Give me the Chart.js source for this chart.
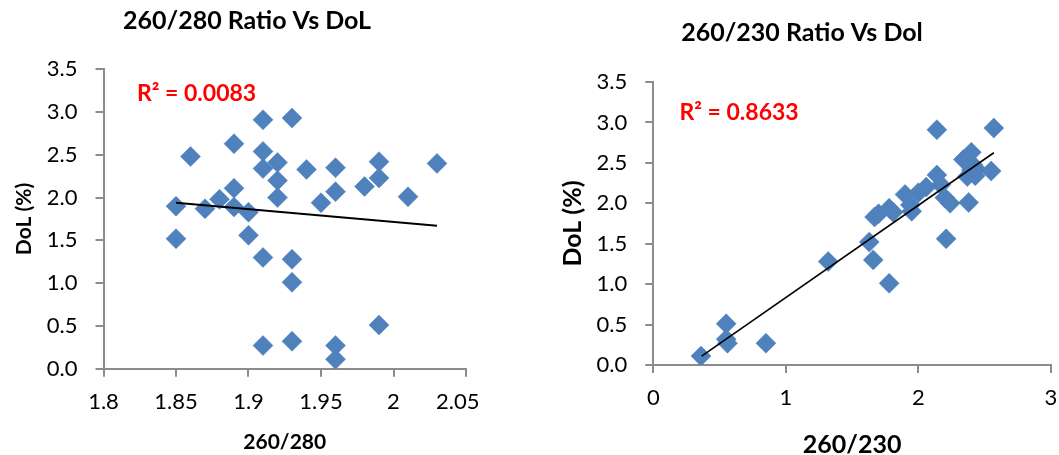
<!DOCTYPE html>
<html>
<head>
<meta charset="utf-8">
<script src="https://cdn.jsdelivr.net/npm/chart.js@4.4.1/dist/chart.umd.min.js"></script>
<style>
  html, body { margin: 0; padding: 0; background: #fff; overflow: hidden; }
  #wrap { position: relative; width: 1059px; height: 455px; overflow: hidden; }
  .box { position: absolute; top: 0; }
  #box280 { left: 0; width: 500px; height: 480px; }
  #box230 { left: 530px; width: 529px; height: 480px; }
</style>
</head>
<body>
<div id="wrap">
  <div class="box" id="box280"><canvas id="c280"></canvas></div>
  <div class="box" id="box230"><canvas id="c230"></canvas></div>
</div>
<script>
// ---- Sample data: degree of labelling (DoL, %) against purity ratios ----
const ratio280 = [1.85, 1.85, 1.86, 1.87, 1.88, 1.89, 1.89, 1.89, 1.90, 1.90,
                  1.91, 1.91, 1.91, 1.91, 1.91, 1.92, 1.92, 1.92, 1.93, 1.93,
                  1.93, 1.93, 1.94, 1.95, 1.96, 1.96, 1.96, 1.96, 1.98, 1.99,
                  1.99, 1.99, 2.01, 2.03];
const dol280   = [1.90, 1.52, 2.48, 1.87, 1.98, 2.63, 2.11, 1.89, 1.83, 1.56,
                  2.91, 2.54, 2.34, 1.30, 0.27, 2.41, 2.20, 2.00, 2.93, 1.28,
                  1.01, 0.32, 2.33, 1.94, 2.35, 2.07, 0.27, 0.11, 2.13, 2.42,
                  2.23, 0.51, 2.01, 2.40];

const ratio230 = [2.34, 2.40, 2.41, 2.44, 2.40, 2.37, 2.14, 2.43, 2.55, 2.17,
                  2.06, 2.00, 1.90, 2.20, 2.38, 2.24, 1.94, 1.78, 1.95, 1.81,
                  1.70, 1.67, 2.21, 1.63, 1.66, 1.32, 1.78, 0.55, 0.55, 0.56,
                  0.85, 0.36, 2.14, 2.57];
const dol230   = [2.54, 2.63, 2.48, 2.42, 2.41, 2.33, 2.35, 2.34, 2.40, 2.23,
                  2.20, 2.13, 2.11, 2.07, 2.01, 2.00, 1.98, 1.94, 1.90, 1.89,
                  1.87, 1.83, 1.56, 1.52, 1.30, 1.28, 1.01, 0.51, 0.32, 0.27,
                  0.27, 0.11, 2.91, 2.93];

// Linear trend line end points
const fit280X = [1.85, 2.03];
const fit280Y = [1.94, 1.67];
const fit230X = [0.365, 2.57];
const fit230Y = [0.11, 2.625];

// Axis ticks
const dolTicks      = [0, 0.5, 1, 1.5, 2, 2.5, 3, 3.5];
const dolTickLabels = ['0.0', '0.5', '1.0', '1.5', '2.0', '2.5', '3.0', '3.5'];
const x280Ticks      = [1.8, 1.85, 1.9, 1.95, 2.0, 2.05];
const x280TickLabels = ['1.8', '1.85', '1.9', '1.95', '2', '2.05'];
const x230Ticks      = [0, 1, 2, 3];
const x230TickLabels = ['0', '1', '2', '3'];

const r2Label280 = 'R\u00B2 = 0.0083';
const r2Label230 = 'R\u00B2 = 0.8633';

// ---- Styling ----
const FONT = 'Lato, "Open Sans", sans-serif';
const AXIS_GREY = '#8c8c8c';
const MARKER = '#4F81BD';
const TICK_SIZE = 22;

Chart.defaults.font.family = FONT;
Chart.defaults.font.size = TICK_SIZE;
Chart.defaults.color = '#000';

// Draws free-standing captions (chart title, R² annotation) on the canvas
const captionPlugin = {
  id: 'captions',
  afterDraw(chart, args, opts) {
    const ctx = chart.ctx;
    ctx.save();
    (opts.items || []).forEach(it => {
      ctx.font = it.font;
      ctx.fillStyle = it.color;
      ctx.textAlign = it.align;
      ctx.textBaseline = 'middle';
      ctx.fillText(it.text, it.x, it.y);
    });
    ctx.restore();
  }
};

// Fixes an axis box to an exact size and drops the edge padding for end labels
function fixBox(size, horizontal) {
  return s => {
    if (horizontal) { s.height = size; } else { s.width = size; }
    s.paddingLeft = 0; s.paddingRight = 0; s.paddingTop = 0; s.paddingBottom = 0;
  };
}

function buildChart(canvasId, cfg) {
  return new Chart(document.getElementById(canvasId), {
    type: 'scatter',
    data: {
      datasets: [
        {
          type: 'line',
          data: cfg.fitX.map((x, i) => ({ x, y: cfg.fitY[i] })),
          borderColor: '#000',
          borderWidth: cfg.fitWidth,
          pointRadius: 0,
          fill: false,
          order: 0
        },
        {
          data: cfg.xs.map((x, i) => ({ x, y: cfg.ys[i] })),
          pointStyle: 'rectRot',
          pointRadius: 10,
          pointHoverRadius: 10,
          backgroundColor: MARKER,
          borderColor: MARKER,
          borderWidth: 0.5,
          order: 1
        }
      ]
    },
    options: {
      responsive: true,
      maintainAspectRatio: false,
      animation: false,
      events: [],
      layout: { autoPadding: false, padding: cfg.padding },
      plugins: {
        legend: { display: false },
        tooltip: { enabled: false },
        title: { display: false },
        captions: { items: cfg.captions }
      },
      scales: {
        x: {
          type: 'linear',
          min: cfg.xTicks[0],
          max: cfg.xTicks[cfg.xTicks.length - 1],
          afterBuildTicks: s => { s.ticks = cfg.xTicks.map(v => ({ value: v })); },
          afterFit: fixBox(cfg.xAxisHeight, true),
          ticks: {
            autoSkip: false,
            maxRotation: 0,
            padding: cfg.xTickPad,
            color: '#000',
            font: { family: FONT, size: TICK_SIZE },
            // the last label is nudged inwards so it stays inside the plot frame
            callback: (v, i) => cfg.xLabels[i] + (i === cfg.xLabels.length - 1 ? cfg.lastLabelTail : '')
          },
          grid: { drawOnChartArea: false, drawTicks: true, tickLength: 8, color: AXIS_GREY, lineWidth: 2 },
          border: { display: true, color: AXIS_GREY, width: 2 },
          title: {
            display: true,
            text: cfg.xTitle,
            color: '#000',
            font: { family: FONT, size: cfg.axisTitleSize, weight: 'bold', lineHeight: 1 },
            padding: { top: 0, bottom: cfg.xTitlePad }
          }
        },
        y: {
          type: 'linear',
          min: 0,
          max: 3.5,
          afterBuildTicks: s => { s.ticks = dolTicks.map(v => ({ value: v })); },
          afterFit: fixBox(cfg.yAxisWidth, false),
          ticks: {
            autoSkip: false,
            padding: 18,
            color: '#000',
            font: { family: FONT, size: TICK_SIZE },
            callback: (v, i) => dolTickLabels[i]
          },
          grid: { drawOnChartArea: false, drawTicks: true, tickLength: 8, color: AXIS_GREY, lineWidth: 2 },
          border: { display: true, color: AXIS_GREY, width: 2 },
          title: {
            display: true,
            text: 'DoL (%)',
            color: '#000',
            font: { family: FONT, size: cfg.axisTitleSize, weight: 'bold', lineHeight: 1 },
            padding: { top: cfg.yTitlePad, bottom: 0 }
          }
        }
      }
    },
    plugins: [captionPlugin]
  });
}

buildChart('c280', {
  xs: ratio280, ys: dol280, fitX: fit280X, fitY: fit280Y, fitWidth: 2,
  xTicks: x280Ticks, xLabels: x280TickLabels, xTitle: '260/280', lastLabelTail: '\u2002 ',
  padding: { left: 0, top: 69.3, right: 34, bottom: 0 },
  yAxisWidth: 103.5, xAxisHeight: 480 - 368.7, xTickPad: 12,
  axisTitleSize: 21, xTitlePad: 27.5, yTitlePad: 13.5,
  captions: [
    { text: '260/280 Ratio Vs DoL', x: 247, y: 21, font: 'bold 25px ' + FONT, color: '#000', align: 'center' },
    { text: r2Label280, x: 137, y: 93.5, font: 'bold 23px ' + FONT, color: '#FF0000', align: 'left' }
  ]
});

buildChart('c230', {
  xs: ratio230, ys: dol230, fitX: fit230X, fitY: fit230Y, fitWidth: 1.6,
  xTicks: x230Ticks, xLabels: x230TickLabels, xTitle: '260/230', lastLabelTail: '',
  padding: { left: 0, top: 82, right: 8.2, bottom: 0 },
  yAxisWidth: 123.3, xAxisHeight: 480 - 365, xTickPad: 12,
  axisTitleSize: 25, xTitlePad: 22.5, yTitlePad: 30.5,
  captions: [
    { text: '260/230 Ratio Vs Dol', x: 272, y: 33, font: 'bold 25px ' + FONT, color: '#000', align: 'center' },
    { text: r2Label230, x: 149.5, y: 113, font: 'bold 23px ' + FONT, color: '#FF0000', align: 'left' }
  ]
});
</script>
</body>
</html>
